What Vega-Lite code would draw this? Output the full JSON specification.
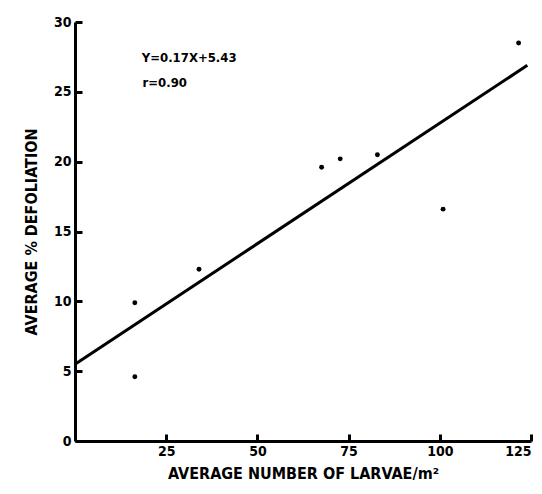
{
  "$schema": "https://vega.github.io/schema/vega-lite/v6.json",
  "width": 456,
  "height": 419,
  "autosize": {"type": "none"},
  "padding": {"left": 75, "top": 22, "right": 11, "bottom": 53},
  "background": "white",
  "config": {
    "view": {"stroke": null},
    "font": "DejaVu Sans Condensed",
    "axis": {
      "grid": false,
      "domainColor": "black",
      "domainWidth": 3,
      "tickColor": "black",
      "tickWidth": 3,
      "tickSize": -7,
      "labelColor": "black",
      "labelFont": "DejaVu Sans Condensed",
      "labelFontWeight": "bold",
      "labelFontSize": 14,
      "titleColor": "black",
      "titleFont": "DejaVu Sans Condensed",
      "titleFontWeight": "bold",
      "titleFontSize": 16
    }
  },
  "datasets": {
    "pts": [
      {"larvae": 16.4, "defol": 9.9},
      {"larvae": 16.4, "defol": 4.6},
      {"larvae": 34, "defol": 12.3},
      {"larvae": 67.6, "defol": 19.6},
      {"larvae": 72.7, "defol": 20.2},
      {"larvae": 82.9, "defol": 20.5},
      {"larvae": 100.9, "defol": 16.6},
      {"larvae": 121.6, "defol": 28.5}
    ],
    "fit": [
      {"larvae": 0, "defol": 5.5},
      {"larvae": 124, "defol": 26.9}
    ],
    "notes": [
      {"larvae": 18.3, "defol": 27.4, "label": "Y=0.17X+5.43"},
      {"larvae": 18.5, "defol": 25.6, "label": "r=0.90"}
    ]
  },
  "layer": [
    {
      "data": {"name": "fit"},
      "mark": {"type": "line", "color": "black", "strokeWidth": 3},
      "encoding": {
        "x": {
          "field": "larvae", "type": "quantitative",
          "scale": {"domain": [0, 125], "nice": false, "zero": true},
          "axis": {
            "values": [25, 50, 75, 100, 125],
            "title": "AVERAGE  NUMBER  OF  LARVAE/m²",
            "labelPadding": 10,
            "titlePadding": 7
          }
        },
        "y": {
          "field": "defol", "type": "quantitative",
          "scale": {"domain": [0, 30], "nice": false},
          "axis": {
            "values": [0, 5, 10, 15, 20, 25, 30],
            "title": "AVERAGE  %  DEFOLIATION",
            "labelPadding": 11,
            "titlePadding": 14
          }
        }
      }
    },
    {
      "data": {"name": "pts"},
      "mark": {"type": "circle", "color": "black", "opacity": 1, "size": 24},
      "encoding": {
        "x": {"field": "larvae", "type": "quantitative"},
        "y": {"field": "defol", "type": "quantitative"}
      }
    },
    {
      "data": {"name": "notes"},
      "mark": {"type": "text", "align": "left", "baseline": "middle", "fontSize": 13, "fontWeight": "bold", "font": "DejaVu Sans Condensed", "color": "black"},
      "encoding": {
        "x": {"field": "larvae", "type": "quantitative"},
        "y": {"field": "defol", "type": "quantitative"},
        "text": {"field": "label"}
      }
    }
  ]
}
